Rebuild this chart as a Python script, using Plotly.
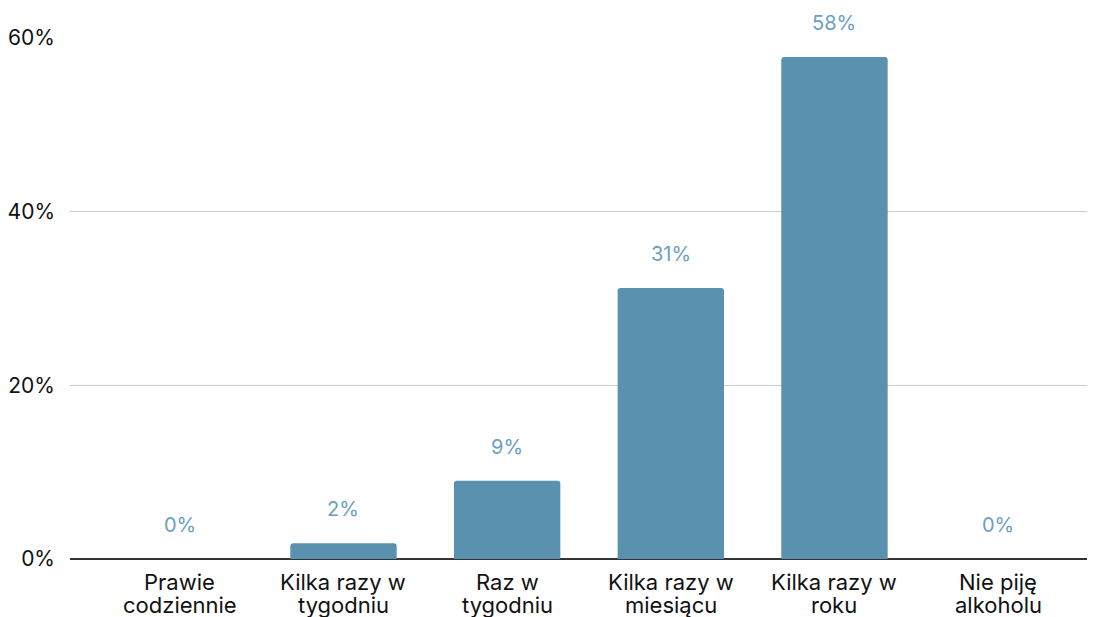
import plotly.graph_objects as go

categories = ["Prawie\ncodziennie", "Kilka razy w\ntygodniu", "Raz w\ntygodniu",
              "Kilka razy w\nmiesiącu", "Kilka razy w\nroku", "Nie piję\nalkoholu"]
values = [0, 1.8, 9, 31.2, 57.8, 0]
labels = ["0%", "2%", "9%", "31%", "58%", "0%"]
y_ticks = [0, 20, 40, 60]
y_tick_text = ["0%", "20%", "40%", "60%"]

xs = list(range(len(categories)))

fig = go.Figure()
fig.add_trace(go.Bar(
    x=xs, y=values, width=0.65,
    marker=dict(color="#5A91AF", line=dict(width=0)),
    hoverinfo="skip",
))

for x, v, t in zip(xs, values, labels):
    fig.add_annotation(x=x, y=v, text=t, showarrow=False, yshift=34,
                       yanchor="middle", xanchor="center",
                       font=dict(family="Inter", size=20, color="#6A9FC0"))

# category labels (two tight lines, as in the reference)
for x, cat in zip(xs, categories):
    for i, line in enumerate(cat.split("\n")):
        fig.add_annotation(x=x, y=0, yref="paper", text=line, showarrow=False,
                           yanchor="middle", xanchor="center", yshift=-23 * (i + 1),
                           font=dict(family="Inter", size=22, color="#111111"))

fig.update_layout(
    width=1079, height=609,
    margin=dict(l=60, r=0, t=30, b=58),
    paper_bgcolor="white", plot_bgcolor="white",
    showlegend=False,
    barcornerradius=3,
    font=dict(family="Inter", size=21, color="#111111"),
    xaxis=dict(range=[-0.671, 5.543], tickvals=xs, showticklabels=False,
               showgrid=False, zeroline=False, showline=False,
               ticks="", fixedrange=True),
    yaxis=dict(range=[0, 60], tickvals=y_ticks, ticktext=y_tick_text,
               showgrid=True, gridcolor="#CCCCCC", gridwidth=1,
               zeroline=True, zerolinecolor="#333333", zerolinewidth=1.5,
               ticks="", ticklabelstandoff=14, fixedrange=True),
)

fig.write_html("out.html")
